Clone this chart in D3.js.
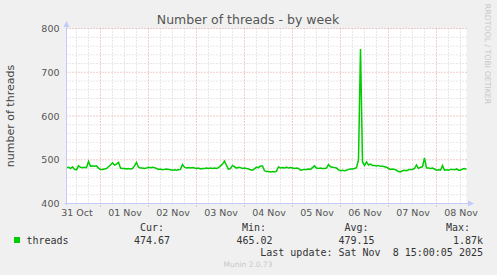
<!DOCTYPE html>
<html><head><meta charset="utf-8">
<script src="https://cdn.jsdelivr.net/npm/d3@7"></script>
<style>
html,body{margin:0;padding:0;background:#f0f0f0;}
svg{display:block;}
</style></head>
<body>
<svg id="c" width="497" height="275"></svg>
<script>
// ---- data ----
const title = "Number of threads - by week";
const yLabel = "number of threads";
const seriesName = "threads";
const startTime = Date.UTC(2025, 9, 31, 7, 0, 0);   // first sample
const endTime = Date.UTC(2025, 10, 8, 15, 0, 0);    // last update
const stepHours = 1;
const threads = [
 482,483,480,484,478,477,486,483,482,483,482,496,485,486,485,486,481,478,478,479,
 480,484,488,493,488,490,494,481,480,480,479,480,479,480,486,494,483,481,481,480,
 481,483,482,483,482,480,478,479,477,478,479,478,477,476,477,476,477,478,489,483,
 481,482,481,482,481,480,481,479,480,480,481,480,481,480,481,480,482,486,490,497,
 487,478,480,487,484,481,483,482,480,481,480,479,477,476,479,483,482,486,486,475,
 473,473,472,473,472,474,484,481,482,481,483,481,482,481,480,481,480,476,477,478,
 478,479,478,482,486,481,480,481,480,480,481,489,484,483,482,481,477,475,476,475,
 476,478,479,479,480,482,500,753,495,487,495,488,490,487,487,486,487,485,485,484,
 483,480,478,479,478,476,473,472,475,476,475,477,478,478,480,488,480,483,484,504,
 481,481,480,481,479,476,477,476,487,476,477,476,478,478,477,479,476,476,479,480,
 478
];
const yTicks = [400, 500, 600, 700, 800];
const legendHeaders = ["Cur:", "Min:", "Avg:", "Max:"];
const legendValues = ["474.67", "465.02", "479.15", "1.87k"];
const lastUpdate = "Last update: Sat Nov  8 15:00:05 2025";
const footer = "Munin 2.0.73";
const watermark = "RRDTOOL / TOBI OETIKER";

// ---- layout ----
const svg = d3.select("#c");
const X0 = 66.5, X1 = 466.5, Y0 = 203.5, Y1 = 28.5;
const x = d3.scaleUtc().domain([startTime, endTime]).range([X0, X1]);
const y = d3.scaleLinear().domain([400, 800]).range([Y0, Y1]);
const data = threads.map((v, i) => ({t: new Date(startTime + i * stepHours * 3600e3), v}));

svg.append("rect").attr("width", 497).attr("height", 275).attr("fill", "#f0f0f0");
svg.append("rect").attr("x", X0).attr("y", Y1).attr("width", X1 - X0).attr("height", Y0 - Y1).attr("fill", "#ffffff");

const grid = svg.append("g");
// minor horizontal every 20
d3.range(420, 800, 20).filter(v => v % 100 !== 0).forEach(v => {
  grid.append("line").attr("x1", X0).attr("x2", X1).attr("y1", y(v)).attr("y2", y(v))
    .attr("stroke", "#d0d0d0").attr("stroke-dasharray", "1,2");
});
// minor vertical every 6h
x.ticks(d3.utcHour.every(6)).filter(d => d.getUTCHours() !== 0).forEach(d => {
  grid.append("line").attr("x1", x(d)).attr("x2", x(d)).attr("y1", Y1).attr("y2", Y0)
    .attr("stroke", "#d0d0d0").attr("stroke-dasharray", "1,2");
});
// major horizontal
yTicks.filter(v => v > 400).forEach(v => {
  grid.append("line").attr("x1", X0).attr("x2", X1).attr("y1", y(v)).attr("y2", y(v))
    .attr("stroke", "#e49a9a").attr("stroke-dasharray", "1,2");
});
// major vertical at midnight
x.ticks(d3.utcDay.every(1)).forEach(d => {
  grid.append("line").attr("x1", x(d)).attr("x2", x(d)).attr("y1", Y1).attr("y2", Y0 + 3)
    .attr("stroke", "#e49a9a").attr("stroke-dasharray", "1,2");
});

// data line
svg.append("path").datum(data)
  .attr("d", d3.line().x(d => x(d.t)).y(d => y(d.v)))
  .attr("fill", "none").attr("stroke", "#00cc00").attr("stroke-width", 1.5)
  .attr("stroke-linejoin", "miter");

// axes
const axc = "#c4cbf7";
svg.append("line").attr("x1", X0).attr("x2", X0).attr("y1", Y0 + 2).attr("y2", 24).attr("stroke", axc);
svg.append("path").attr("d", `M${X0-3},27 L${X0},21 L${X0+3},27 Z`).attr("fill", axc);
svg.append("line").attr("x1", X0 - 2).attr("x2", 470).attr("y1", Y0).attr("y2", Y0).attr("stroke", axc);
svg.append("path").attr("d", `M468,${Y0-3} L474,${Y0} L468,${Y0+3} Z`).attr("fill", axc);

const fam = "'DejaVu Sans', sans-serif";
const mono = "'DejaVu Sans Mono', monospace";

// y tick labels
const yAxis = d3.axisLeft(y).tickValues(yTicks).tickSize(0).tickPadding(7);
const yg = svg.append("g").attr("transform", `translate(${X0},0)`).call(yAxis);
yg.select(".domain").remove();
yg.selectAll("text").attr("font-family", fam).attr("font-size", 9.5).attr("fill", "#555");

// x labels at noon
const noons = d3.utcDay.range(Date.UTC(2025, 9, 31), Date.UTC(2025, 10, 9)).map(d => new Date(+d + 12 * 3600e3));
const xAxis = d3.axisBottom(x).tickValues(noons).tickSize(0).tickPadding(6).tickFormat(d3.utcFormat("%d %b"));
const xg = svg.append("g").attr("transform", `translate(0,${Y0})`).call(xAxis);
xg.select(".domain").remove();
xg.selectAll("text").attr("font-family", fam).attr("font-size", 9.5).attr("fill", "#555");

// title
svg.append("text").attr("x", 248).attr("y", 23.5).attr("text-anchor", "middle")
  .attr("font-family", fam).attr("font-size", 12.5).attr("fill", "#555").text(title);

// y label
svg.append("text").attr("transform", "translate(14,116) rotate(-90)").attr("text-anchor", "middle")
  .attr("font-family", fam).attr("font-size", 11).attr("fill", "#444").text(yLabel);

// watermark
svg.append("text").attr("transform", "translate(485,54) rotate(90)").attr("text-anchor", "middle")
  .attr("font-family", fam).attr("font-size", 7.8).attr("fill", "#c8c8c8").text(watermark);

// legend
svg.append("rect").attr("x", 14).attr("y", 237).attr("width", 6).attr("height", 6).attr("fill", "#00cc00");
svg.append("text").attr("x", 26.5).attr("y", 243.5).attr("font-family", mono).attr("font-size", 10)
  .attr("fill", "#333").text(seriesName);
const hdrEnd = [164, 266, 368.5, 470];
const valEnd = [170, 272.5, 374.5, 483];
legendHeaders.forEach((h, i) => {
  svg.append("text").attr("x", hdrEnd[i]).attr("y", 231).attr("text-anchor", "end")
    .attr("font-family", mono).attr("font-size", 10).attr("fill", "#333").text(h);
});
legendValues.forEach((v, i) => {
  svg.append("text").attr("x", valEnd[i]).attr("y", 243.5).attr("text-anchor", "end")
    .attr("font-family", mono).attr("font-size", 10).attr("fill", "#333").text(v);
});
svg.append("text").attr("x", 483).attr("y", 255.5).attr("text-anchor", "end").attr("xml:space", "preserve")
  .style("white-space", "pre")
  .attr("font-family", mono).attr("font-size", 10).attr("fill", "#333").text(lastUpdate);
svg.append("text").attr("x", 248).attr("y", 267).attr("text-anchor", "middle")
  .attr("font-family", fam).attr("font-size", 7.5).attr("fill", "#c8c8c8").text(footer);
</script>
</body></html>
